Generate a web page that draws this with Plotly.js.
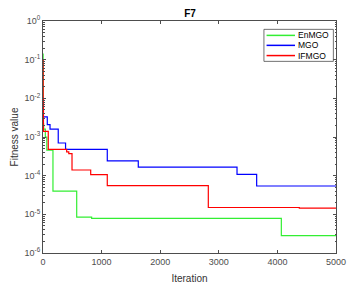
<!DOCTYPE html>
<html>
<head>
<meta charset="utf-8">
<script src="https://cdn.plot.ly/plotly-3.0.1.min.js"></script>
<style>html,body{margin:0;padding:0;background:#fff}#chart{width:356px;height:287px}</style>
</head>
<body>
<div id="chart"></div>
<script>
// Data (step change points: iteration -> best fitness)
const seriesNames = ['EnMGO', 'MGO', 'IFMGO'];
const seriesColors = ['#33ee33', '#0000ff', '#ff0000'];

const enmgoIter = [0, 2, 10, 40, 65, 170, 575, 830, 4067, 5000];
const enmgoFit  = [0.14, 2.2e-3, 1.6e-3, 1.0e-3, 4.6e-4, 4.0e-5, 8.5e-6, 7.9e-6, 2.8e-6, 2.8e-6];

const mgoIter = [0, 2, 73, 120, 260, 385, 1097, 1626, 3311, 3646, 5000];
const mgoFit  = [1.0e-2, 3.3e-3, 2.1e-3, 1.6e-3, 7.0e-4, 4.8e-4, 2.4e-4, 1.67e-4, 1.08e-4, 5.4e-5, 5.4e-5];

const ifmgoIter = [0, 3, 8, 90, 404, 440, 495, 814, 1097, 2821, 4374, 5000];
const ifmgoFit  = [0.1, 1.0e-2, 1.4e-3, 4.8e-4, 4.1e-4, 3.7e-4, 1.4e-4, 1.06e-4, 5.5e-5, 1.5e-5, 1.44e-5, 1.44e-5];

const xTicks = [0, 1000, 2000, 3000, 4000, 5000];
const yTickExp = [-6, -5, -4, -3, -2, -1, 0];
const yTickVals = yTickExp.map(e => Math.pow(10, e));
const yTickText = yTickExp.map(e => '10<sup>' + e + '</sup>');

const axisColor = '#4d4d4d';
const xs = [enmgoIter, mgoIter, ifmgoIter];
const ys = [enmgoFit, mgoFit, ifmgoFit];
const traces = seriesNames.map((n, i) => ({
  x: xs[i], y: ys[i], name: n, mode: 'lines', showlegend: false,
  line: {shape: 'hv', color: seriesColors[i], width: 1.2}
}));

// custom legend (paper coordinates)
const legRowsY = [0.938, 0.895, 0.851];
const shapes = [{type: 'rect', xref: 'paper', yref: 'paper', x0: 0.754, x1: 0.991, y0: 0.826, y1: 0.964,
  line: {color: '#333', width: 0.7}, fillcolor: '#fff', layer: 'above'}];
const annotations = [];
seriesNames.forEach((n, i) => {
  shapes.push({type: 'line', xref: 'paper', yref: 'paper', x0: 0.763, x1: 0.860, y0: legRowsY[i], y1: legRowsY[i],
    line: {color: seriesColors[i], width: 1.5}, layer: 'above'});
  annotations.push({xref: 'paper', yref: 'paper', x: 0.864, y: legRowsY[i], xanchor: 'left', yanchor: 'middle',
    text: n, showarrow: false, font: {size: 8.5, color: '#000'}});
});

const layout = {
  width: 356, height: 287,
  margin: {l: 43, r: 20, t: 21, b: 34},
  paper_bgcolor: '#fff', plot_bgcolor: '#fff',
  font: {family: 'Liberation Sans, Arial, sans-serif', size: 9, color: axisColor},
  title: {text: '<b>F7</b>', font: {size: 10, color: '#000'}, x: 0.534, xanchor: 'center', y: 0.952, yanchor: 'middle'},
  xaxis: {
    title: {text: 'Iteration', font: {size: 10, color: '#333'}, standoff: 9},
    range: [0, 5000], tickvals: xTicks, ticktext: xTicks.map(String),
    ticks: 'inside', ticklen: 3, tickcolor: axisColor, linecolor: axisColor, linewidth: 1,
    mirror: 'allticks', showline: true, showgrid: false, zeroline: false,
    tickfont: {size: 9, color: axisColor}
  },
  yaxis: {
    title: {text: 'Fitness value', font: {size: 10, color: '#333'}, standoff: 4},
    type: 'log', range: [-6, 0], tickmode: 'array', tickvals: yTickVals, ticktext: yTickText,
    ticks: 'inside', ticklen: 3, tickcolor: axisColor, linecolor: axisColor, linewidth: 1,
    mirror: 'allticks', showline: true, showgrid: false, zeroline: false,
    minor: {ticks: 'inside', dtick: 'D1', ticklen: 1.5, tickcolor: axisColor, showgrid: false},
    tickfont: {size: 9, color: axisColor}
  },
  shapes: shapes,
  annotations: annotations,
  showlegend: false
};

Plotly.newPlot('chart', traces, layout, {displayModeBar: false, staticPlot: true});
</script>
</body>
</html>
